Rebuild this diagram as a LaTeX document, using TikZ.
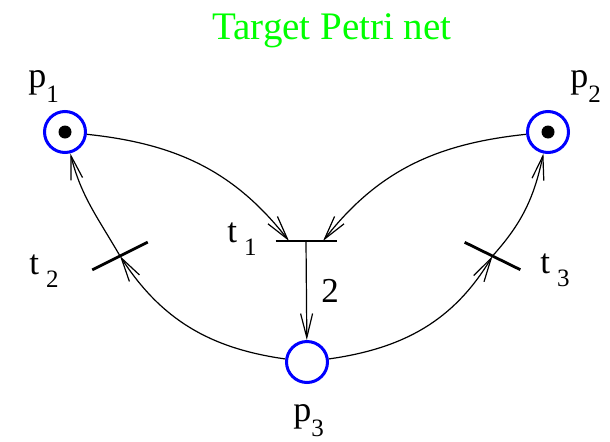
\documentclass[tikz,border=0pt]{standalone}
\usepackage{fontspec}
\setmainfont{Liberation Serif}
\usetikzlibrary{arrows.meta}

\newcommand{\psub}[1]{\raisebox{-7.5pt}{\fontsize{12.5}{12.5}\selectfont #1}}
\newcommand{\tsub}[1]{\hspace{3.5pt}\raisebox{-6.5pt}{\fontsize{12.5}{12.5}\selectfont #1}}

\begin{document}
\begin{tikzpicture}[x=0.5pt,y=0.5pt,
  place/.style={circle,draw=blue,line width=1.5pt,minimum size=20.5pt,inner sep=0pt},
  bar/.style={line width=1.4pt},
  arc/.style={line width=0.6pt,-{Straight Barb[length=12pt,width=6pt]}},
  plbl/.style={anchor=base west,inner sep=0pt,font=\fontsize{18}{18}\selectfont},
  tlbl/.style={anchor=base west,inner sep=0pt,font=\fontsize{17.5}{17.5}\selectfont}]
\useasboundingbox (0,0) rectangle (610,441);

\node[anchor=base,inner sep=0pt,text=green,font=\fontsize{19.5}{19.5}\selectfont] (title) at (332,402) {Target Petri net};

% places
\node[place] (p1) at (65,309) {};
\node[place] (p2) at (548,309) {};
\node[place] (p3) at (307,79) {};
\fill (p1) circle (6.5);
\fill (p2) circle (6.5);
\node[plbl] (p1l) at (28,354) {p\psub{1}};
\node[plbl] (p2l) at (570,354) {p\psub{2}};
\node[plbl] (p3l) at (293,20) {p\psub{3}};

% transitions
\coordinate (t1) at (306,200);
\coordinate (t2) at (120,185);
\coordinate (t3) at (492.5,185);
\draw[bar] ([shift={(-30.5,0)}]t1) -- ([shift={(30.5,0)}]t1);
\draw[bar] ([shift={(206.6:31)}]t2) -- ([shift={(26.6:31)}]t2);
\draw[bar] ([shift={(153.8:31)}]t3) -- ([shift={(-26.2:31)}]t3);
\node[tlbl] (t1l) at (227,199) {t\tsub{1}};
\node[tlbl] (t2l) at (29,167) {t\tsub{2}};
\node[tlbl] (t3l) at (540,168) {t\tsub{3}};

% arcs
\draw[arc] (p1) to[out=-6,in=128] ([shift={(-17,0)}]t1);
\draw[arc] (p2) to[out=186,in=52] ([shift={(17,0)}]t1);
\draw[arc] (t1) -- (p3);
\node[tlbl] (w) at (321,139) {2};
\draw[arc] (p3) to[out=172,in=-57] (t2);
\draw[arc] (t2) to[out=120,in=-76] (p1);
\draw[arc] (p3) to[out=8,in=-121] (t3);
\draw[arc] (t3) to[out=48,in=-102] (p2);
\end{tikzpicture}
\end{document}
